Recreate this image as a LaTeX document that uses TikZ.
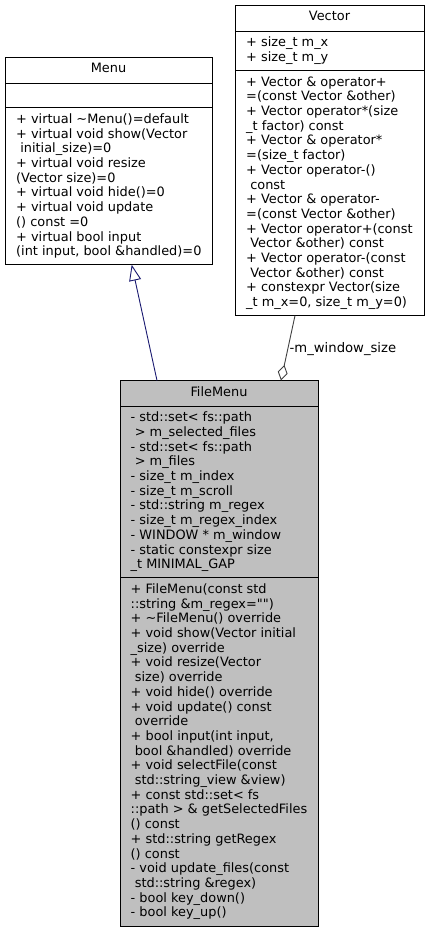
\documentclass[tikz,border=0pt]{standalone}
\usepackage{fontspec}
\newfontfamily\dv{DejaVu Sans}
\usetikzlibrary{arrows.meta,calc}
\definecolor{navyedge}{HTML}{191970}
\definecolor{grayedge}{HTML}{404040}
\definecolor{hlfill}{HTML}{BFBFBF}
\newcommand\Lx{\rule[-3.7pt]{0pt}{14.7pt}}
\tikzset{
  classbox/.style={draw=black, line width=0.9pt, fill=white, inner sep=0pt, outer sep=0pt, anchor=north west},
  hlbox/.style={classbox, fill=hlfill},
  sepline/.style={draw=black, line width=0.9pt},
  txt/.style={font=\dv\fontsize{12.9}{14.7}\selectfont\offinterlineskip, align=left, inner sep=0pt, anchor=north west},
  ttl/.style={font=\dv\fontsize{12.9}{14.7}\selectfont, inner sep=0pt, anchor=north},
  lbl/.style={font=\dv\fontsize{13.2}{14.7}\selectfont, inner sep=0pt, anchor=base west},
  inh/.style={draw=navyedge, line width=0.9pt, -{Triangle[open, length=16pt, width=12pt, line width=0.9pt]}},
  agg/.style={draw=grayedge, line width=0.9pt, -{Diamond[open, length=16pt, width=10pt, line width=0.9pt]}}
}
\begin{document}
\begin{tikzpicture}[x=1pt, y=-1pt]
\useasboundingbox (0,0) rectangle (429,932);

% ---------- Menu ----------
\node[classbox, minimum width=207pt, minimum height=207.7pt] (menu) at (5,57) {};
\draw[sepline] ($(menu.north west)+(0,26)$) -- ($(menu.north east)+(0,26)$);
\draw[sepline] ($(menu.north west)+(0,50.7)$) -- ($(menu.north east)+(0,50.7)$);
\node[ttl] (menuT) at ($(menu.north)+(0,4.5)$) {\Lx Menu};
\node[txt] (menuM) at ($(menu.north west)+(11,55.2)$) {%
\Lx+ virtual \textasciitilde Menu()=default\\
\Lx+ virtual void show(Vector\\
\Lx\ initial\_size)=0\\
\Lx+ virtual void resize\\
\Lx(Vector size)=0\\
\Lx+ virtual void hide()=0\\
\Lx+ virtual void update\\
\Lx() const =0\\
\Lx+ virtual bool input\\
\Lx(int input, bool \&handled)=0};

% ---------- Vector ----------
\node[classbox, minimum width=189pt, minimum height=310.6pt] (vector) at (235,5) {};
\draw[sepline] ($(vector.north west)+(0,26)$) -- ($(vector.north east)+(0,26)$);
\draw[sepline] ($(vector.north west)+(0,65.4)$) -- ($(vector.north east)+(0,65.4)$);
\node[ttl] (vectorT) at ($(vector.north)+(0,4.5)$) {\Lx Vector};
\node[txt] (vectorA) at ($(vector.north west)+(11,30.5)$) {%
\Lx+ size\_t m\_x\\
\Lx+ size\_t m\_y};
\node[txt] (vectorM) at ($(vector.north west)+(11,69.9)$) {%
\Lx+ Vector \& operator+\\
\Lx=(const Vector \&other)\\
\Lx+ Vector operator*(size\\
\Lx\_t factor) const\\
\Lx+ Vector \& operator*\\
\Lx=(size\_t factor)\\
\Lx+ Vector operator-()\\
\Lx\ const\\
\Lx+ Vector \& operator-\\
\Lx=(const Vector \&other)\\
\Lx+ Vector operator+(const\\
\Lx\ Vector \&other) const\\
\Lx+ Vector operator-(const\\
\Lx\ Vector \&other) const\\
\Lx+ constexpr Vector(size\\
\Lx\_t m\_x=0, size\_t m\_y=0)};

% ---------- FileMenu ----------
\node[hlbox, minimum width=198pt, minimum height=546pt] (filemenu) at (120,380.5) {};
\draw[sepline] ($(filemenu.north west)+(0,25.5)$) -- ($(filemenu.north east)+(0,25.5)$);
\draw[sepline] ($(filemenu.north west)+(0,197.2)$) -- ($(filemenu.north east)+(0,197.2)$);
\node[ttl] (filemenuT) at ($(filemenu.north)+(0,4.5)$) {\Lx FileMenu};
\node[txt] (filemenuA) at ($(filemenu.north west)+(10.5,30)$) {%
\Lx- std::set< fs::path\\
\Lx\ > m\_selected\_files\\
\Lx- std::set< fs::path\\
\Lx\ > m\_files\\
\Lx- size\_t m\_index\\
\Lx- size\_t m\_scroll\\
\Lx- std::string m\_regex\\
\Lx- size\_t m\_regex\_index\\
\Lx- WINDOW * m\_window\\
\Lx- static constexpr size\\
\Lx\_t MINIMAL\_GAP};
\node[txt] (filemenuM) at ($(filemenu.north west)+(10.5,201.7)$) {%
\Lx+ FileMenu(const std\\
\Lx::string \&m\_regex="")\\
\Lx+ \textasciitilde FileMenu() override\\
\Lx+ void show(Vector initial\\
\Lx\_size) override\\
\Lx+ void resize(Vector\\
\Lx\ size) override\\
\Lx+ void hide() override\\
\Lx+ void update() const\\
\Lx\ override\\
\Lx+ bool input(int input,\\
\Lx\ bool \&handled) override\\
\Lx+ void selectFile(const\\
\Lx\ std::string\_view \&view)\\
\Lx+ const std::set< fs\\
\Lx::path > \& getSelectedFiles\\
\Lx() const\\
\Lx+ std::string getRegex\\
\Lx() const\\
\Lx- void update\_files(const\\
\Lx\ std::string \&regex)\\
\Lx- bool key\_down()\\
\Lx- bool key\_up()};

% ---------- connectors ----------
\coordinate (inhS) at ($(filemenu.north west)+(37,0)$);
\coordinate (inhE) at ($(menu.south west)+(126.7,0)$);
\draw[inh] (inhS) -- (inhE);
\coordinate (aggS) at ($(vector.south west)+(60,0)$);
\coordinate (aggE) at ($(filemenu.north west)+(161,0)$);
\draw[agg] (aggS) -- (aggE);
\node[lbl] (aggL) at (289.5,352) {-m\_window\_size};
\end{tikzpicture}
\end{document}
